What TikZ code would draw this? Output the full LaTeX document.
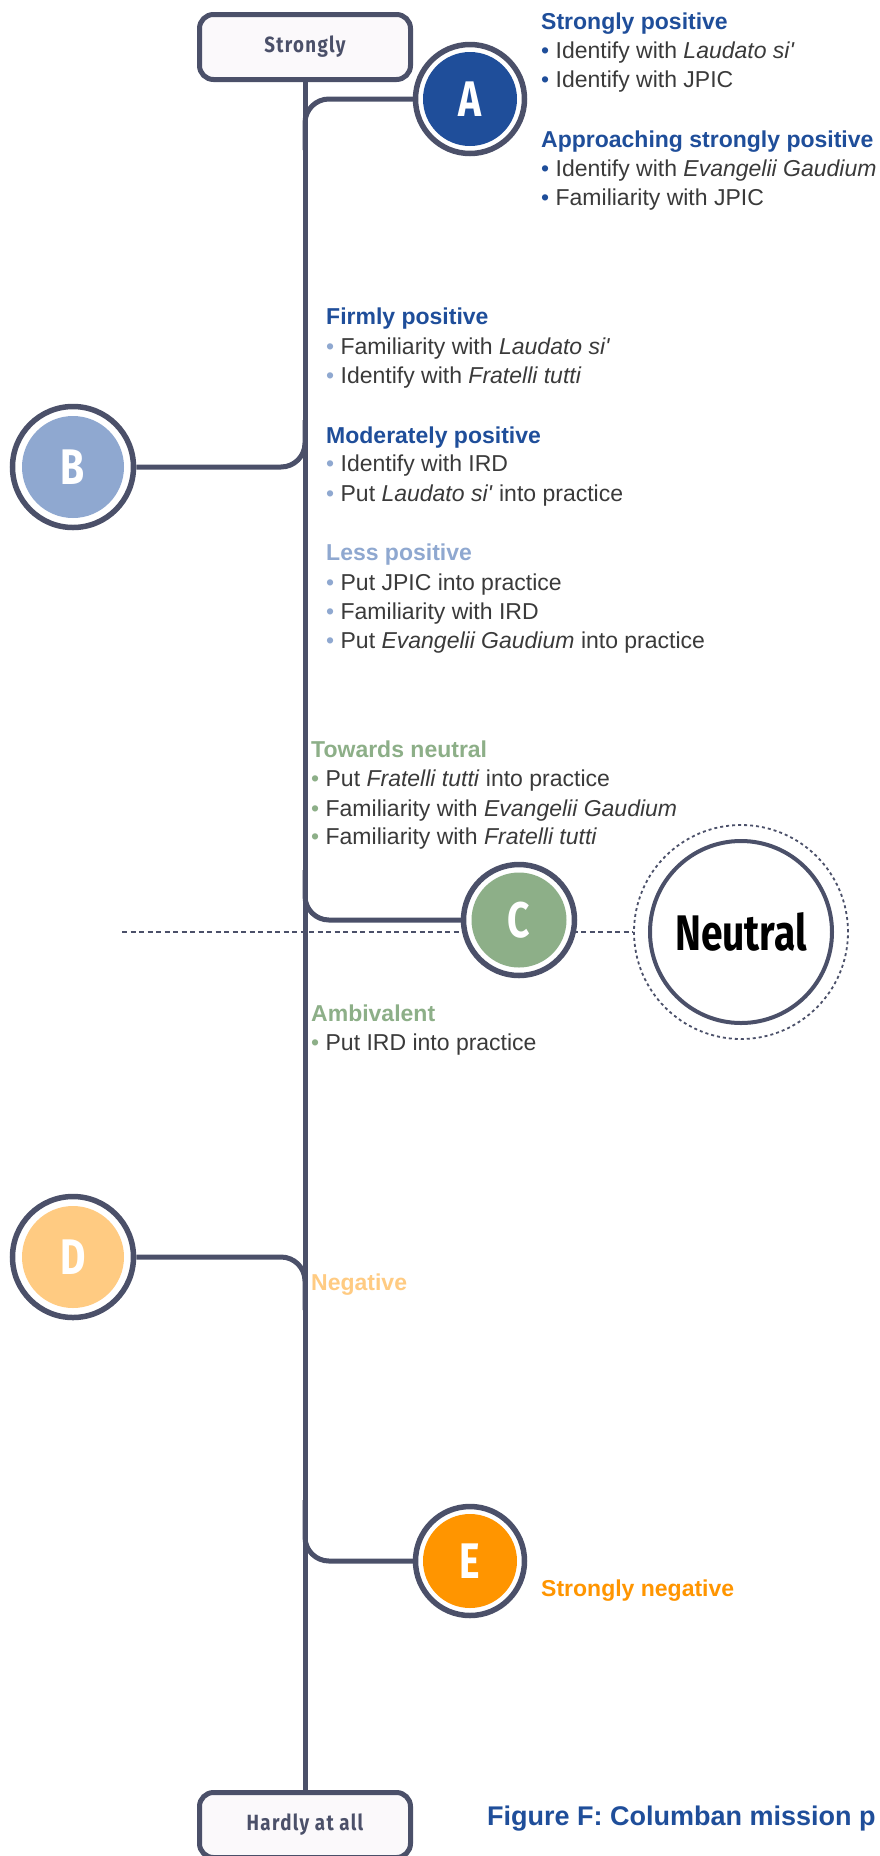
\documentclass[tikz,border=0pt]{standalone}
\usepackage{fontspec}
\setmainfont{Liberation Sans}
\newfontfamily\condfont[FakeStretch=0.78]{Fira Sans}
\newfontfamily\boxfont[FakeStretch=0.85,LetterSpace=6]{Fira Sans}
\usetikzlibrary{backgrounds}
\definecolor{slate}{HTML}{4B5069}
\definecolor{dblue}{HTML}{1F4E9A}
\definecolor{lblue}{HTML}{8FA8D0}
\definecolor{sgreen}{HTML}{8DAF88}
\definecolor{lorange}{HTML}{FFCB82}
\definecolor{eorange}{HTML}{FF9500}
\definecolor{txt}{HTML}{3A3A3A}
\definecolor{boxfill}{HTML}{FBF9FB}
\newcommand{\bul}[2]{\textcolor{#1}{\textbullet}\ #2}
\newcommand{\sq}{{\addfontfeatures{Ligatures=TeXOff}'}}
\tikzset{
  endbox/.style={draw=slate, line width=5pt, fill=boxfill, rounded corners=14pt,
    minimum width=211pt, minimum height=65pt, inner sep=0pt,
    font=\boxfont\bfseries\fontsize{22}{26}\selectfont, text=slate},
  mainline/.style={draw=slate, line width=5pt},
  branch/.style={draw=slate, line width=5pt, rounded corners=24pt},
  ring/.style={circle, draw=slate, line width=5.5pt, fill=white, minimum size=#1, inner sep=0pt},
  disk/.style={circle, fill=#1, inner sep=0pt, text=white,
    font=\condfont\bfseries\fontsize{50}{50}\selectfont},
  body/.style={anchor=base west, inner sep=0pt, text=txt, font=\fontsize{23}{27}\selectfont},
  head/.style={anchor=base west, inner sep=0pt, text=#1, font=\bfseries\fontsize{23}{27}\selectfont},
  dashline/.style={draw=slate, line width=2.2pt, dash pattern=on 5pt off 3.5pt},
}
\begin{document}
\begin{tikzpicture}[x=1pt,y=-1pt]
\clip (0,0) rectangle (880,1856);

% end boxes
\node[endbox] (strong) at (305,47) {Strongly};
\node[endbox] (hardly) at (305,1825) {Hardly at all};

% junction coordinates on the main line
\coordinate (aj) at (305,150);
\coordinate (bj) at (305,420);
\coordinate (cj) at (305,870);
\coordinate (dj) at (305,1310);
\coordinate (ej) at (305,1500);
\coordinate (dl) at (122,932);

% circles
\node[ring=109pt] (A) at (470,99) {};
\node[disk=dblue, minimum size=94pt] (Ai) at (A) {A};
\node[ring=121pt] (B) at (73,467) {};
\node[disk=lblue, minimum size=102pt] (Bi) at (B) {B};
\node[ring=111pt] (C) at (519,920) {};
\node[disk=sgreen, minimum size=95pt] (Ci) at (C) {C};
\node[ring=121pt] (D) at (73,1257) {};
\node[disk=lorange, minimum size=102pt] (Di) at (D) {D};
\node[ring=109pt] (E) at (470,1561) {};
\node[disk=eorange, minimum size=94pt] (Ei) at (E) {E};

% neutral
\node[circle, draw=slate, line width=1.8pt, dash pattern=on 3pt off 3pt, fill=white,
  minimum size=214pt, inner sep=0pt] (Nout) at (741,932) {};
\node[circle, draw=slate, line width=4pt, minimum size=182pt, inner sep=0pt,
  font=\condfont\bfseries\fontsize{50}{50}\selectfont, text=black] (N) at (Nout) {Neutral};

\begin{scope}[on background layer]
\fill[white] (0,0) rectangle (880,1856);
\draw[mainline] (strong) -- (hardly);
\draw[branch] (aj) |- (A);
\draw[branch] (B) -| (bj);
\draw[branch] (cj) |- (C);
\draw[branch] (D) -| (dj);
\draw[branch] (ej) |- (E);
\draw[dashline] (dl) -- (Nout);
\end{scope}

% group A texts
\node[head=dblue] (t1) at (541,29) {Strongly positive};
\node[body] (t2) at (541,58) {\bul{dblue}{Identify with \textit{Laudato si\sq}}};
\node[body] (t3) at (541,87) {\bul{dblue}{Identify with JPIC}};
\node[head=dblue] (t4) at (541,147) {Approaching strongly positive};
\node[body] (t5) at (541,176) {\bul{dblue}{Identify with \textit{Evangelii Gaudium}}};
\node[body] (t6) at (541,205) {\bul{dblue}{Familiarity with JPIC}};

% group B texts
\node[head=dblue] (u1) at (326,324) {Firmly positive};
\node[body] (u2) at (326,354) {\bul{lblue}{Familiarity with \textit{Laudato si\sq}}};
\node[body] (u3) at (326,383) {\bul{lblue}{Identify with \textit{Fratelli tutti}}};
\node[head=dblue] (u4) at (326,443) {Moderately positive};
\node[body] (u5) at (326,471) {\bul{lblue}{Identify with IRD}};
\node[body] (u6) at (326,501) {\bul{lblue}{Put \textit{Laudato si\sq} into practice}};
\node[head=lblue] (u7) at (326,560) {Less positive};
\node[body] (u8) at (326,590) {\bul{lblue}{Put JPIC into practice}};
\node[body] (u9) at (326,619) {\bul{lblue}{Familiarity with IRD}};
\node[body] (u10) at (326,648) {\bul{lblue}{Put \textit{Evangelii Gaudium} into practice}};

% group C texts
\node[head=sgreen] (v1) at (311,757) {Towards neutral};
\node[body] (v2) at (311,786) {\bul{sgreen}{Put \textit{Fratelli tutti} into practice}};
\node[body] (v3) at (311,816) {\bul{sgreen}{Familiarity with \textit{Evangelii Gaudium}}};
\node[body] (v4) at (311,844) {\bul{sgreen}{Familiarity with \textit{Fratelli tutti}}};
\node[head=sgreen] (v5) at (311,1021) {Ambivalent};
\node[body] (v6) at (311,1050) {\bul{sgreen}{Put IRD into practice}};

% D, E texts
\node[head=lorange] (w1) at (311,1290) {Negative};
\node[head=eorange] (w2) at (541,1596) {Strongly negative};

% caption
\node[anchor=base west, inner sep=0pt, text=dblue, font=\bfseries\fontsize{27}{30}\selectfont] (cap) at (487,1825) {Figure F: Columban mission p};
\end{tikzpicture}
\end{document}
